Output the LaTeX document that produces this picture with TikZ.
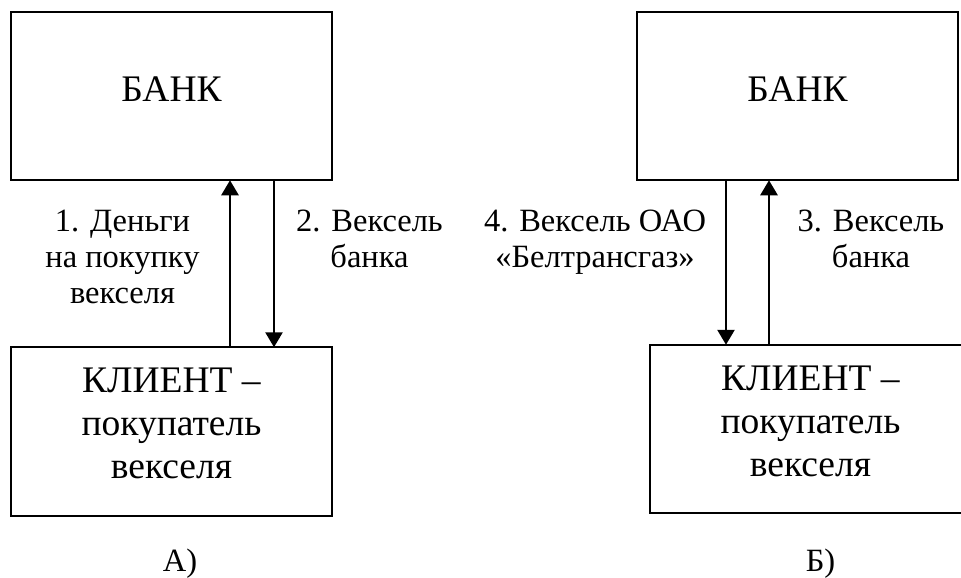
\documentclass[tikz,border=0pt]{standalone}
\usepackage{fontspec}
\setmainfont{Liberation Serif}
\usetikzlibrary{arrows.meta,positioning}
\newcommand{\BigFont}{\fontsize{37.5}{43}\selectfont}
\newcommand{\LabFont}{\fontsize{32.5}{36}\selectfont}

\begin{document}
\begin{tikzpicture}[x=1pt, y=-1pt,
	box/.style={draw, line width=1.8pt, minimum width=321pt, minimum height=168.5pt, inner sep=0pt, outer sep=0pt},
	big/.style={font=\BigFont, align=center, anchor=north, inner sep=0pt},
	lab/.style={font=\LabFont, align=center, anchor=north, inner sep=0pt},
	flow/.style={line width=2.7pt, -{Triangle[length=15pt, width=17pt]}}]
	\useasboundingbox (0,0) rectangle (961,578);
	% scheme A
	\node[box] (BankA) at (171.5,96) {};
	\node[box] (ClientA) at (171.5,431.5) {};
	\node[big] (BankAText) at ([yshift=-65pt]BankA.north) {БАНК};
	\node[big] (ClientAText) at ([yshift=-20pt]ClientA.north) {КЛИЕНТ –\\покупатель\\векселя};
	\coordinate (UpA) at (230,0);
	\coordinate (DownA) at (274,0);
	\draw[flow] (ClientA.north -| UpA) -- (BankA.south -| UpA);
	\draw[flow] (BankA.south -| DownA) -- (ClientA.north -| DownA);
	\node[lab] (StepOne) at (122.5,210) {1. Деньги\\на покупку\\векселя};
	\node[lab] (StepTwo) at (369.5,210) {2. Вексель\\банка};
	\node[lab] (CapA) at (180,549) {А)};
	% scheme B
	\node[box] (BankB) at (797.5,96) {};
	\node[box] (ClientB) at (810.5,429) {};
	\node[big] (BankBText) at ([yshift=-65pt]BankB.north) {БАНК};
	\node[big] (ClientBText) at ([yshift=-21pt]ClientB.north) {КЛИЕНТ –\\покупатель\\векселя};
	\coordinate (DownB) at (726,0);
	\coordinate (UpB) at (769,0);
	\draw[flow] (BankB.south -| DownB) -- (ClientB.north -| DownB);
	\draw[flow] (ClientB.north -| UpB) -- (BankB.south -| UpB);
	\node[lab] (StepFour) at (595,210) {4. Вексель ОАО\\«Белтрансгаз»};
	\node[lab] (StepThree) at (871,210) {3. Вексель\\банка};
	\node[lab] (CapB) at (820.5,549) {Б)};
\end{tikzpicture}
\end{document}
